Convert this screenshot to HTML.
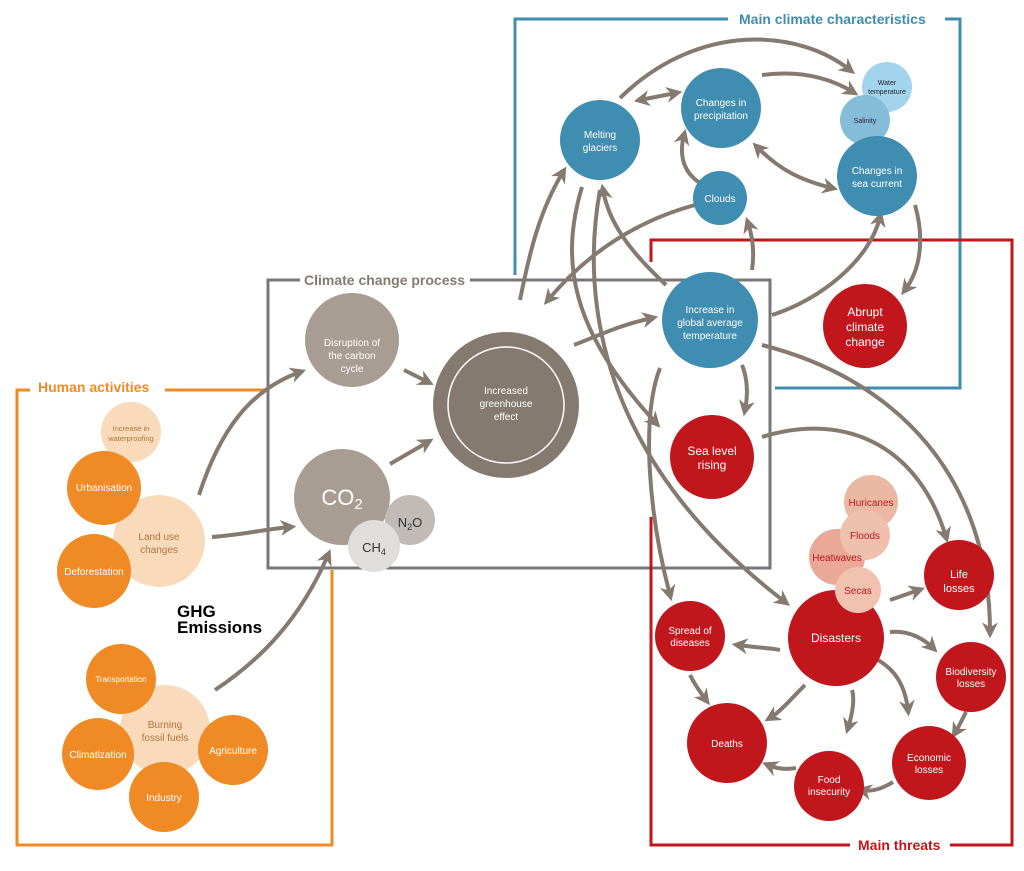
<!DOCTYPE html>
<html><head><meta charset="utf-8"><style>
body{margin:0;background:#fff;}
svg{display:block;font-family:"Liberation Sans",sans-serif;}
</style></head><body>
<svg width="1024" height="871" viewBox="0 0 1024 871" xmlns="http://www.w3.org/2000/svg">
<defs>
<marker id="a" viewBox="0 0 10 10" refX="6" refY="5" markerWidth="4" markerHeight="4" orient="auto-start-reverse" markerUnits="strokeWidth"><path d="M0,0 L10,5 L0,10 L3,5 z" fill="#857a70"/></marker>
</defs>
<!-- frames -->
<g fill="none" stroke-width="3">
<path d="M30,390 H17 V845 H332 V570" stroke="#f08a24"/>
<path d="M165,390 H268" stroke="#f08a24"/>
<path d="M300,280 H268 V568 H770 V280 H470" stroke="#777"/>
<path d="M728,19 H515 V275" stroke="#3f8db0"/>
<path d="M945,19 H960 V388 H775" stroke="#3f8db0"/>
<path d="M651,262 V240 H1012 V845 H950" stroke="#c0161c"/>
<path d="M850,845 H651 V517" stroke="#c0161c"/>
</g>
<g font-weight="bold" font-size="14">
<text x="38" y="392" fill="#f08a24">Human activities</text>
<text x="304" y="285" fill="#857a70">Climate change process</text>
<text x="739" y="24" fill="#3f8db0">Main climate characteristics</text>
<text x="858" y="850" fill="#c0161c">Main threats</text>
</g>
<!-- arrows -->
<g fill="none" stroke="#857a70" stroke-width="4" marker-end="url(#a)">
<path d="M199,495 C220,430 250,390 300,372"/>
<path d="M212,537 C240,535 260,530 290,527"/>
<path d="M215,690 C260,660 300,620 328,555"/>
<path d="M404,370 L428,382"/>
<path d="M390,464 L428,442"/>
<path d="M574,345 C600,335 620,325 652,318"/>
<path d="M520,300 C530,250 540,210 563,172"/>
<path d="M582,187 C560,260 570,330 656,423"/>
<path d="M666,285 C640,260 610,230 603,190"/>
<path d="M695,205 C640,220 590,250 548,300"/>
<path d="M752,270 C755,250 752,235 748,223"/>
<path d="M772,315 C820,300 870,260 880,217"/>
<path d="M742,365 C748,380 748,395 745,410"/>
<path d="M660,368 C640,420 650,520 670,595"/>
<path d="M762,345 C900,380 990,480 990,632"/>
<path d="M762,437 C850,410 920,450 946,537"/>
<path d="M600,190 C580,300 600,460 785,602"/>
<path d="M700,183 C680,170 680,150 684,135"/>
<path d="M620,98 C700,20 800,30 850,70" />
<path d="M762,75 C800,70 830,78 853,92"/>
<path d="M640,100 L676,93" marker-start="url(#a)"/>
<path d="M757,147 C780,170 800,180 832,188" marker-start="url(#a)"/>
<path d="M915,205 C925,240 920,270 905,290"/>
<path d="M780,650 C770,648 760,648 738,645"/>
<path d="M890,600 L919,590"/>
<path d="M890,632 C910,630 925,640 933,648"/>
<path d="M878,660 C895,670 905,685 908,710"/>
<path d="M852,690 C855,700 852,715 848,728"/>
<path d="M805,685 C790,700 780,712 770,718"/>
<path d="M796,768 C785,770 775,768 768,765"/>
<path d="M893,782 C880,790 870,792 862,790"/>
<path d="M966,712 C962,720 958,728 955,733"/>
<path d="M690,675 C695,685 700,692 706,700"/>
</g>
<!-- process circles -->
<circle cx="352" cy="340" r="47" fill="#a89d93"/>
<circle cx="506" cy="405" r="73" fill="#847a70"/>
<circle cx="506" cy="405" r="58" fill="none" stroke="#fff" stroke-width="1.5"/>
<circle cx="342" cy="497" r="48" fill="#a89d93"/>
<circle cx="410" cy="520" r="25" fill="#c0bbb6"/>
<circle cx="374" cy="546" r="26" fill="#e0dedc"/>
<!-- human -->
<g fill="#f9dabb"><circle cx="131" cy="432" r="30"/><circle cx="159" cy="541" r="46"/><circle cx="165" cy="730" r="45"/></g>
<g fill="#f08a24"><circle cx="104" cy="488" r="37"/><circle cx="94" cy="571" r="37"/><circle cx="121" cy="679" r="35"/><circle cx="98" cy="754" r="36"/><circle cx="233" cy="750" r="35"/><circle cx="164" cy="797" r="35"/></g>
<!-- blue -->
<circle cx="887" cy="87" r="25" fill="#a3d4ee"/>
<circle cx="865" cy="120" r="25" fill="#85bcd8"/>
<g fill="#3f8db0"><circle cx="600" cy="140" r="40"/><circle cx="721" cy="108" r="40"/><circle cx="720" cy="198" r="27"/><circle cx="877" cy="176" r="40"/><circle cx="710" cy="320" r="48"/></g>
<!-- red -->
<g fill="#c0161c"><circle cx="865" cy="326" r="42"/><circle cx="712" cy="457" r="42"/><circle cx="836" cy="638" r="48"/><circle cx="959" cy="575" r="35"/><circle cx="971" cy="677" r="35"/><circle cx="929" cy="763" r="37"/><circle cx="829" cy="786" r="35"/><circle cx="727" cy="743" r="40"/><circle cx="690" cy="636" r="35"/></g>
<circle cx="871" cy="502" r="27" fill="#eab8a3"/>
<circle cx="837" cy="557" r="28" fill="#e9a898"/>
<circle cx="865" cy="535" r="25" fill="#efc0ae"/>
<circle cx="858" cy="590" r="23" fill="#f1c2b0"/>
<!-- labels -->
<g text-anchor="middle" font-size="10" fill="#fff">
<text x="352" y="347" ><tspan x="352" y="346">Disruption of</tspan><tspan x="352" y="359">the carbon</tspan><tspan x="352" y="372">cycle</tspan></text>
<text fill="#fff"><tspan x="506" y="394">Increased</tspan><tspan x="506" y="407">greenhouse</tspan><tspan x="506" y="420">effect</tspan></text>
<text x="342" y="505" font-size="22">CO<tspan font-size="15" dy="4">2</tspan></text>
<text x="410" y="527" font-size="13" fill="#333">N<tspan font-size="9" dy="3">2</tspan><tspan dy="-3">O</tspan></text>
<text x="374" y="552" font-size="13" fill="#333">CH<tspan font-size="9" dy="3">4</tspan></text>
<g fill="#b3743a" font-size="7.5"><text x="131" y="431">Increase in</text><text x="131" y="441">waterproofing</text></g>
<g fill="#b3743a"><text x="159" y="540">Land use</text><text x="159" y="553">changes</text><text x="165" y="728">Burning</text><text x="165" y="741">fossil fuels</text></g>
<text x="104" y="491">Urbanisation</text>
<text x="94" y="575">Deforestation</text>
<text x="121" y="682" font-size="8">Transportation</text>
<text x="98" y="758">Climatization</text>
<text x="233" y="754">Agriculture</text>
<text x="164" y="801">Industry</text>
<text x="600" y="138">Melting</text><text x="600" y="151">glaciers</text>
<text x="721" y="106">Changes in</text><text x="721" y="119">precipitation</text>
<text x="720" y="202">Clouds</text>
<text x="877" y="174">Changes in</text><text x="877" y="187">sea current</text>
<text x="710" y="313">Increase in</text><text x="710" y="326">global average</text><text x="710" y="339">temperature</text>
<g fill="#223" font-size="7"><text x="887" y="85">Water</text><text x="887" y="94">temperature</text><text x="865" y="123">Salinity</text></g>
<g font-size="12"><text x="865" y="316">Abrupt</text><text x="865" y="331">climate</text><text x="865" y="346">change</text>
<text x="712" y="455">Sea level</text><text x="712" y="469">rising</text>
<text x="836" y="642">Disasters</text>
<text x="959" y="578" font-size="11">Life</text><text x="959" y="592" font-size="11">losses</text></g>
<text x="971" y="675">Biodiversity</text><text x="971" y="687">losses</text>
<text x="929" y="761">Economic</text><text x="929" y="773">losses</text>
<text x="829" y="783">Food</text><text x="829" y="795">insecurity</text>
<text x="727" y="747">Deaths</text>
<text x="690" y="634">Spread of</text><text x="690" y="646">diseases</text>
<g fill="#c0161c"><text x="871" y="506">Huricanes</text><text x="865" y="539">Floods</text><text x="837" y="561">Heatwaves</text><text x="858" y="594">Secas</text></g>
</g>
<text x="176" y="506" font-size="16" font-weight="bold" fill="#000"><tspan x="176" y="506"></tspan></text>
<g font-size="17" font-weight="bold" fill="#000"><text x="177" y="617">GHG</text><text x="177" y="633">Emissions</text></g>
</svg>
</body></html>
